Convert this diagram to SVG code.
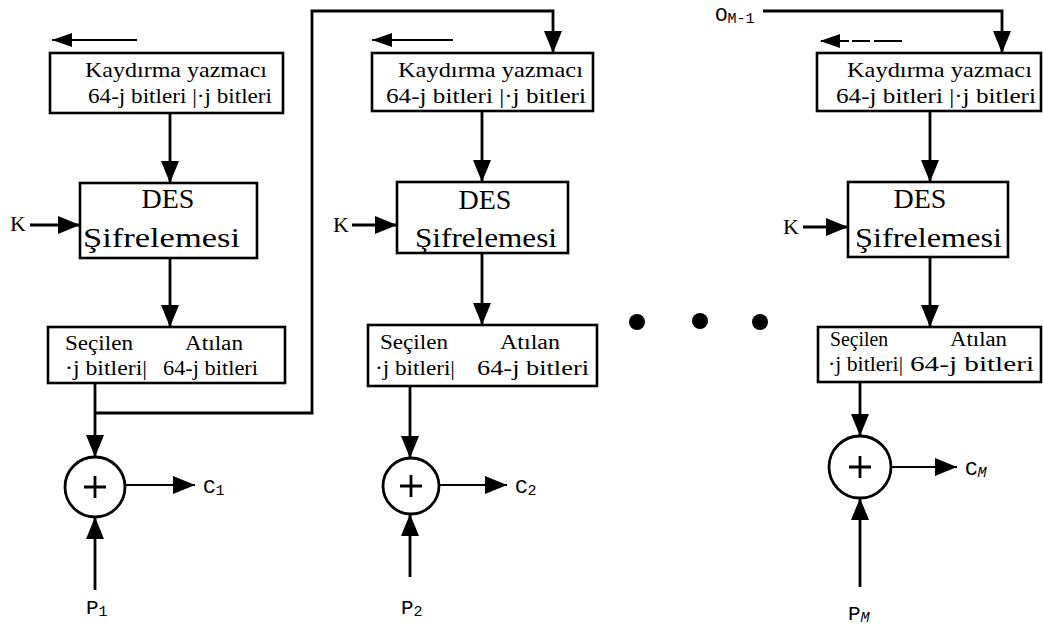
<svg xmlns="http://www.w3.org/2000/svg" width="1043" height="630" viewBox="0 0 1043 630">
<defs>
<marker id="ah" markerUnits="userSpaceOnUse" markerWidth="24" markerHeight="20" refX="22" refY="9" orient="auto">
<path d="M0,0 L22,9 L0,18 Z" fill="#000"/>
</marker>
<marker id="as" markerUnits="userSpaceOnUse" markerWidth="22" markerHeight="16" refX="20" refY="7" orient="auto">
<path d="M0,0 L20,7 L0,14 Z" fill="#000"/>
</marker>
<style>
.box{fill:#fff;stroke:#000;stroke-width:2.6}
.ln{fill:none;stroke:#000;stroke-width:2.8}
.thin{fill:none;stroke:#000;stroke-width:2.2}
.t{font-family:"Liberation Serif",serif;font-size:22px;fill:#000}
.s{font-family:"Liberation Serif",serif;font-size:20px;fill:#000}
.b{font-family:"Liberation Serif",serif;font-size:28px;fill:#000}
.lab{font-family:"Liberation Mono",monospace;font-size:21px;fill:#000}
.sub{font-size:15px}
</style>
</defs>
<rect width="1043" height="630" fill="#fff"/>
<g id="connectors">
<path class="thin" d="M137,40 L52,40" marker-end="url(#as)"/>
<path class="ln" d="M170,113 L170,183" marker-end="url(#ah)"/>
<path class="ln" d="M30,225 L80,225" marker-end="url(#ah)"/>
<path class="ln" d="M170,258 L170,327" marker-end="url(#ah)"/>
<path class="ln" d="M95,383 L95,457" marker-end="url(#ah)"/>
<path class="ln" d="M95,413 L312,413 L312,11 L553,11 L553,53" marker-end="url(#ah)"/>
<path class="thin" d="M125,485 L195,485" marker-end="url(#ah)"/>
<path class="ln" d="M95,590 L95,517" marker-end="url(#ah)"/>
<path class="thin" d="M453,40 L372,40" marker-end="url(#as)"/>
<path class="ln" d="M482,111 L482,182" marker-end="url(#ah)"/>
<path class="ln" d="M352,225 L397,225" marker-end="url(#ah)"/>
<path class="ln" d="M482,253 L482,325" marker-end="url(#ah)"/>
<path class="ln" d="M410,386 L410,458" marker-end="url(#ah)"/>
<path class="thin" d="M439,485 L507,485" marker-end="url(#ah)"/>
<path class="ln" d="M410,577 L410,514" marker-end="url(#ah)"/>
<path class="ln" d="M763,11 L1002,11 L1002,53" marker-end="url(#ah)"/>
<path class="thin" d="M902,41 L820,41" stroke-dasharray="28,4,18,3" marker-end="url(#as)"/>
<path class="ln" d="M930,111 L930,182" marker-end="url(#ah)"/>
<path class="ln" d="M803,227 L848,227" marker-end="url(#ah)"/>
<path class="ln" d="M930,257 L930,327" marker-end="url(#ah)"/>
<path class="ln" d="M860,382 L860,436" marker-end="url(#ah)"/>
<path class="thin" d="M891,467 L957,467" marker-end="url(#ah)"/>
<path class="ln" d="M860,587 L860,498" marker-end="url(#ah)"/>
</g>
<g id="shift1">
<rect class="box" x="50" y="53" width="233" height="60"/>
<text class="t" x="85" y="77" textLength="182" lengthAdjust="spacingAndGlyphs">Kaydırma yazmacı</text>
<text class="t" x="88" y="103" textLength="184" lengthAdjust="spacingAndGlyphs">64-j bitleri |·j bitleri</text>
</g>
<g id="des1">
<rect class="box" x="80" y="183" width="177" height="75"/>
<text class="b" x="168" y="208" text-anchor="middle">DES</text>
<text class="b" x="83" y="247" textLength="157" lengthAdjust="spacingAndGlyphs">Şifrelemesi</text>
</g>
<g id="k1"><text class="t" x="10" y="231">K</text></g>
<g id="sel1">
<rect class="box" x="48" y="327" width="237" height="56"/>
<text class="s" x="65" y="350" textLength="68" lengthAdjust="spacingAndGlyphs">Seçilen</text>
<text class="s" x="185" y="350" textLength="58" lengthAdjust="spacingAndGlyphs">Atılan</text>
<text class="s" x="65" y="375" textLength="82" lengthAdjust="spacingAndGlyphs">·j bitleri|</text>
<text class="s" x="163" y="375" textLength="95" lengthAdjust="spacingAndGlyphs">64-j bitleri</text>
</g>
<g id="xor1">
<circle class="ln" cx="95" cy="487" r="30"/>
<path class="ln" d="M84,487 H106 M95,476 V498"/>
</g>
<g id="c1"><text class="lab" x="203" y="493">C<tspan class="sub" dy="2">1</tspan></text></g>
<g id="p1"><text class="lab" x="86" y="614">P<tspan class="sub" dy="2">1</tspan></text></g>

<g id="shift2">
<rect class="box" x="372" y="53" width="221" height="58"/>
<text class="t" x="398" y="77" textLength="185" lengthAdjust="spacingAndGlyphs">Kaydırma yazmacı</text>
<text class="t" x="386" y="103" textLength="200" lengthAdjust="spacingAndGlyphs">64-j bitleri |·j bitleri</text>
</g>
<g id="des2">
<rect class="box" x="397" y="182" width="171" height="71"/>
<text class="b" x="485" y="209" text-anchor="middle">DES</text>
<text class="b" x="415" y="247" textLength="142" lengthAdjust="spacingAndGlyphs">Şifrelemesi</text>
</g>
<g id="k2"><text class="t" x="333" y="232">K</text></g>
<g id="sel2">
<rect class="box" x="368" y="325" width="229" height="61"/>
<text class="s" x="380" y="349" textLength="68" lengthAdjust="spacingAndGlyphs">Seçilen</text>
<text class="s" x="500" y="349" textLength="60" lengthAdjust="spacingAndGlyphs">Atılan</text>
<text class="s" x="375" y="375" textLength="80" lengthAdjust="spacingAndGlyphs">·j bitleri|</text>
<text class="s" x="477" y="375" textLength="112" lengthAdjust="spacingAndGlyphs">64-j bitleri</text>
</g>
<g id="xor2">
<circle class="ln" cx="411" cy="486" r="28"/>
<path class="ln" d="M400,486 H422 M411,475 V497"/>
</g>
<g id="c2"><text class="lab" x="515" y="493">C<tspan class="sub" dy="2">2</tspan></text></g>
<g id="p2"><text class="lab" x="401" y="614">P<tspan class="sub" dy="2">2</tspan></text></g>

<g id="dots">
<circle cx="637" cy="322" r="8" fill="#000"/>
<circle cx="700" cy="321" r="8" fill="#000"/>
<circle cx="760" cy="322" r="8" fill="#000"/>
</g>

<g id="om1"><text class="lab" x="715" y="21">O<tspan class="sub" dy="2">M-1</tspan></text></g>
<g id="shift3">
<rect class="box" x="817" y="53" width="224" height="58"/>
<text class="t" x="847" y="77" textLength="185" lengthAdjust="spacingAndGlyphs">Kaydırma yazmacı</text>
<text class="t" x="836" y="103" textLength="200" lengthAdjust="spacingAndGlyphs">64-j bitleri |·j bitleri</text>
</g>
<g id="des3">
<rect class="box" x="848" y="182" width="160" height="75"/>
<text class="b" x="920" y="208" text-anchor="middle">DES</text>
<text class="b" x="855" y="247" textLength="147" lengthAdjust="spacingAndGlyphs">Şifrelemesi</text>
</g>
<g id="k3"><text class="t" x="783" y="234">K</text></g>
<g id="sel3">
<rect class="box" x="818" y="327" width="223" height="55"/>
<text class="s" x="830" y="346" textLength="58" lengthAdjust="spacingAndGlyphs">Seçilen</text>
<text class="s" x="950" y="346" textLength="57" lengthAdjust="spacingAndGlyphs">Atılan</text>
<text class="s" x="828" y="371" textLength="75" lengthAdjust="spacingAndGlyphs">·j bitleri|</text>
<text class="s" x="910" y="371" textLength="124" lengthAdjust="spacingAndGlyphs">64-j bitleri</text>
</g>
<g id="xor3">
<circle class="ln" cx="860" cy="467" r="31"/>
<path class="ln" d="M849,467 H871 M860,456 V478"/>
</g>
<g id="cm"><text class="lab" x="965" y="475">C<tspan class="sub" dy="2" font-style="italic">M</tspan></text></g>
<g id="pm"><text class="lab" x="848" y="620">P<tspan class="sub" dy="2" font-style="italic">M</tspan></text></g>
</svg>
